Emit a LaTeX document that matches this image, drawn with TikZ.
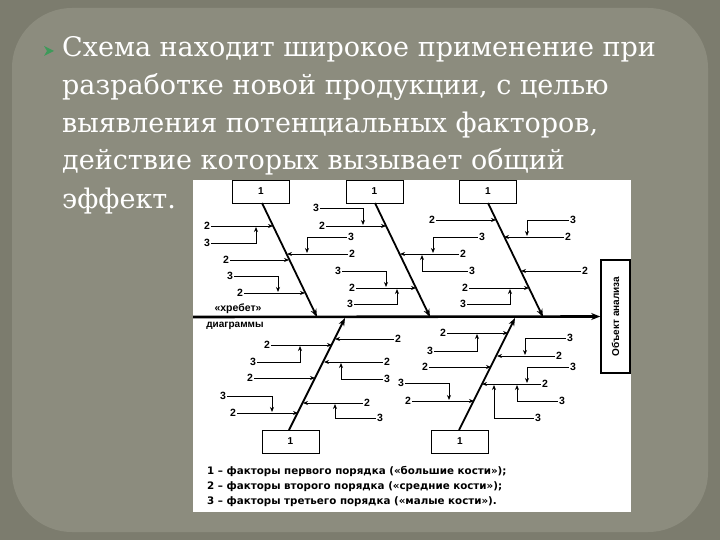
\documentclass[tikz,border=0pt]{standalone}
\usepackage{fontspec}
\setmainfont{DejaVu Serif}
\newfontfamily\lsans{Liberation Sans}
\newfontfamily\dsans{DejaVu Sans}
\usetikzlibrary{arrows.meta}
\definecolor{outerbg}{HTML}{7C7C6E}
\definecolor{innerbg}{HTML}{8C8C7E}
\definecolor{bul}{HTML}{3E9A5A}
\tikzset{
 lab/.style={font=\lsans\bfseries\fontsize{10.5}{12}\selectfont, inner sep=1pt},
 arr/.style={-{Stealth[length=5pt,width=4pt]}, line width=0.8pt},
 bone/.style={-{Stealth[length=8pt,width=6pt]}, line width=1.8pt},
 box/.style={draw, line width=0.8pt, minimum width=57pt, minimum height=23pt, font=\lsans\bfseries\fontsize{10}{12}\selectfont},
 slidetxt/.style={anchor=base west, text=white, font=\fontsize{27}{30}\selectfont, inner sep=0pt},
 legend/.style={anchor=base west, font=\dsans\bfseries\fontsize{10.3}{11}\selectfont, inner sep=0pt}
}
\newcommand\fbt[3]{\node[lab] (#1) at (#2) {2}; \draw[arr] (#1) -- (#3);}
\newcommand\fbh[3]{\node[lab] (#1) at (#2) {3}; \draw[arr] (#1) -| (#3);}
\begin{document}
\begin{tikzpicture}[x=1pt,y=-1pt]
\useasboundingbox (0,0) rectangle (720,540);
\fill[outerbg] (0,0) rectangle (720,540);
\fill[innerbg, rounded corners=60pt] (12,8) rectangle (708,532);
% bullet
\fill[bul] (44,46) -- (54,51) -- (44,56) -- (47,51) -- cycle;
\node[slidetxt] (l1) at (62,57) {Схема находит широкое применение при};
\node[slidetxt] (l2) at (62,95) {разработке новой продукции, с целью};
\node[slidetxt] (l3) at (62,133) {выявления потенциальных факторов,};
\node[slidetxt] (l4) at (62,170) {действие которых вызывает общий};
\node[slidetxt] (l5) at (62,208) {эффект.};
% image
\fill[white] (193,180) rectangle (631,512);
% spine
\node[draw, line width=1.6pt, minimum width=29pt, minimum height=113pt, inner sep=0pt] (obj) at (615.5,316.5) {};
\node[rotate=90, font=\lsans\bfseries\fontsize{10}{11}\selectfont] (objt) at (obj.center) {Объект анализа};
\coordinate (sp0) at (193,317);
\draw[-{Stealth[length=9pt,width=7pt]}, line width=2.6pt] (sp0) -- (obj.west);
\node[lab, anchor=base] (hr) at (238,311) {«хребет»};
\node[lab, anchor=base, font=\lsans\bfseries\fontsize{10}{11}\selectfont] (dg) at (235,327) {диаграммы};
% boxes
\node[box] (b1) at (261,191.5) {1};
\node[box] (b2) at (374.5,191.5) {1};
\node[box] (b3) at (488,191.5) {1};
\node[box] (b4) at (290.5,441.5) {1};
\node[box] (b5) at (460,441.5) {1};
\coordinate (e1) at (317,317); \coordinate (e2) at (430,317); \coordinate (e3) at (543,317);
\coordinate (e4) at (345,318); \coordinate (e5) at (515,318);
\draw[bone] (262,203) -- (e1);
\draw[bone] (375,203) -- (e2);
\draw[bone] (488,203) -- (e3);
\draw[bone] (289,430) -- (e4);
\draw[bone] (459,430) -- (e5);
% top bone 1
\fbt{a1}{207,226}{273,226}
\fbh{a2}{207,243}{256,227}
\fbt{a3}{226,260}{289,260}
\fbt{a4}{352,254}{287,254}
\fbh{a5}{351,237}{307,253}
\fbh{a6}{230,276}{278,292}
\fbt{a7}{240,293}{305,293}
% top bone 2
\fbh{c1}{316,208}{363,225}
\fbt{c2}{322,226}{386,226}
\fbt{c3}{463,254}{400,254}
\fbh{c4}{482,237}{433,253}
\fbh{c5}{472,271}{422,255}
\fbh{c6}{338,271}{386,287}
\fbt{c7}{352,288}{416,288}
\fbh{c8}{350,304}{397,289}
% top bone 3
\fbt{d1}{432,220}{496,220}
\fbh{d2}{573,220}{527,236}
\fbt{d3}{568,237}{504,237}
\fbt{d4}{585,271}{521,271}
\fbt{d5}{465,288}{529,288}
\fbh{d6}{463,304}{510,289}
% bottom bone 1
\fbt{f1}{267,345}{332,345}
\fbh{f2}{253,362}{300,346}
\fbt{f3}{398,339}{335,339}
\fbt{f4}{387,362}{324,362}
\fbh{f5}{387,379}{341,363}
\fbt{f6}{250,378}{315,378}
\fbh{f7}{223,396}{272,412}
\fbt{f8}{233,413}{298,413}
\fbt{f9}{367,403}{303,403}
\fbh{f10}{380,418}{335,404}
% bottom bone 2
\fbt{g1}{443,333}{508,333}
\fbh{g2}{430,351}{477,334}
\fbh{g3}{570,338}{525,355}
\fbt{g4}{559,356}{497,356}
\fbt{g5}{425,367}{491,367}
\fbh{g6}{573,367}{527,383}
\fbt{g7}{545,384}{482,384}
\fbh{g8}{562,401}{517,385}
\fbh{g9}{538,418}{494,385}
\fbh{g10}{401,383}{449,400}
\fbt{g11}{408,401}{474,401}
% legend
\node[legend] (lg1) at (207,474) {1 – факторы первого порядка («большие кости»);};
\node[legend] (lg2) at (207,489) {2 – факторы второго порядка («средние кости»);};
\node[legend] (lg3) at (207,504) {3 – факторы третьего порядка («малые кости»).};
\end{tikzpicture}
\end{document}
